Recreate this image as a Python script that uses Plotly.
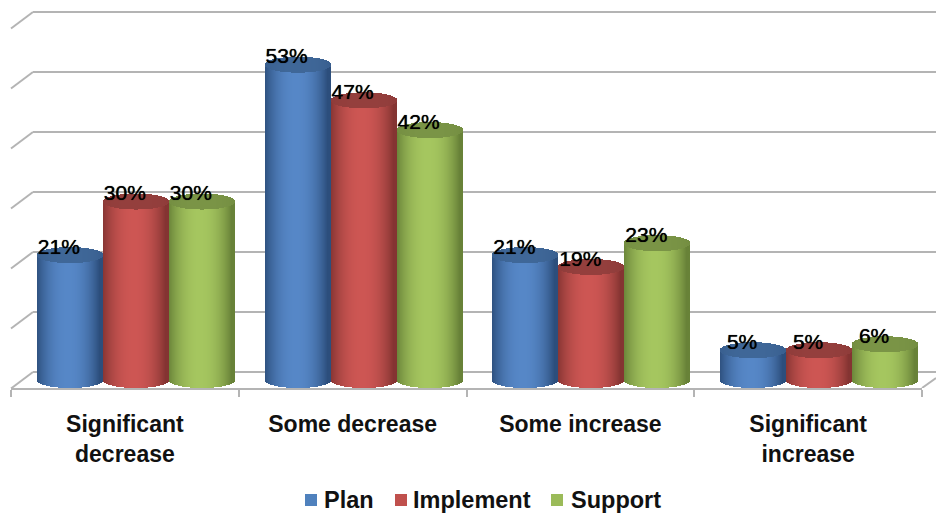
import math
import plotly.graph_objects as go

categories = ["Significant<br>decrease", "Some decrease", "Some increase", "Significant<br>increase"]
series_names = ["Plan", "Implement", "Support"]
plan = [21, 53, 21, 5]
implement = [30, 47, 19, 5]
support = [30, 42, 23, 6]
gridline_values = [0, 10, 20, 30, 40, 50, 60]

centre_colors = [(86, 135, 199), (205, 86, 83), (165, 198, 95)]
edge_colors = [(44, 78, 124), (132, 52, 50), (104, 130, 56)]
cap_colors = [(63, 103, 152), (148, 63, 61), (122, 148, 70)]
legend_colors = ["#4F81BD", "#C0504D", "#9BBB59"]
legend_swatch_px = [305, 395, 551]
legend_text_px = [323, 412, 570]

W, H = 936, 515
L, R, B = 11, 922, 388
BASE_PX, PX_PER_PCT = 380, 5.95
UNIT = (R - L) / 4
CYL_W, DEPTH_X, SEMI = 66, 11, 8
GRID = "#b4b4b4"


def mix(a, b, f):
    return "rgb(%d,%d,%d)" % tuple(round(x + (y - x) * f) for x, y in zip(a, b))


fig = go.Figure()
all_values = [plan, implement, support]
strip = 1 / UNIT
semi_v = SEMI / PX_PER_PCT
offsets = list(range(-CYL_W // 2 + 1, CYL_W // 2, 1))

for s, values in enumerate(all_values):
    xs, base, ht, col, cbase, cht, ccol = [], [], [], [], [], [], []
    for c, v in enumerate(values):
        centre = c + (DEPTH_X + (s - 1) * CYL_W) / UNIT
        for off in offsets:
            t = off / (CYL_W / 2)
            round_ = math.sqrt(max(0.0, 1 - t * t))
            xs.append(centre + off / UNIT)
            base.append(-semi_v * round_)
            ht.append(v + semi_v * round_)
            shade = min(1.0, abs(t + 0.05) ** 2.2 * 1.1)
            col.append(mix(centre_colors[s], edge_colors[s], shade))
            cbase.append(v - semi_v * round_)
            cht.append(2 * semi_v * round_)
            ccol.append(mix(cap_colors[s], edge_colors[s], 0.35 * abs(t) ** 3))
    fig.add_bar(x=xs, y=ht, base=base, width=strip * 1.25, marker=dict(color=col, line_width=0),
                showlegend=False, hoverinfo="skip")
    fig.add_bar(x=xs, y=cht, base=cbase, width=strip * 1.25, marker=dict(color=ccol, line_width=0),
                showlegend=False, hoverinfo="skip")

for s, values in enumerate(all_values):
    fig.add_scatter(
        x=[c + (DEPTH_X + (s - 1) * CYL_W - 11) / UNIT for c in range(len(values))],
        y=[v + 6.5 / PX_PER_PCT for v in values],
        text=[f"{v}%" for v in values], mode="text", textposition="middle center",
        textfont=dict(family="Liberation Sans", size=21, color="#000000", shadow="0 0 0.7px #000000"),
        showlegend=False, hoverinfo="skip", cliponaxis=False)

shapes = []
annotations = []
px_x = lambda p: (p - L) / (R - L)
px_y = lambda p: 1 - p / B
wall_lift = (BASE_PX - 372) / PX_PER_PCT
for g in gridline_values:
    yb = g * 6 / PX_PER_PCT + wall_lift
    shapes.append(dict(type="line", xref="paper", x0=px_x(33), x1=px_x(936), y0=yb, y1=yb,
                       line=dict(color=GRID, width=2), layer="below"))
    shapes.append(dict(type="line", xref="paper", x0=px_x(11), x1=px_x(33), y0=yb - 16.5 / PX_PER_PCT, y1=yb,
                       line=dict(color=GRID, width=2), layer="below"))
shapes.append(dict(type="line", xref="paper", x0=1, x1=px_x(936), y0=(BASE_PX - 388) / PX_PER_PCT,
                   y1=(BASE_PX - 378) / PX_PER_PCT, line=dict(color=GRID, width=2), layer="below"))

for name, color, sx, tx in zip(series_names, legend_colors, legend_swatch_px, legend_text_px):
    shapes.append(dict(type="rect", xref="paper", yref="paper", x0=px_x(sx), x1=px_x(sx + 12),
                       y0=px_y(506), y1=px_y(494), fillcolor=color, line_width=0))
    annotations.append(dict(text=name, xref="paper", yref="paper", x=px_x(tx), y=px_y(500),
                            xanchor="left", yanchor="middle", showarrow=False, borderpad=0,
                            font=dict(size=23.5, family="Liberation Sans", weight="bold", color="#111111")))

fig.update_layout(
    width=W, height=H, margin=dict(l=L, r=W - R, t=0, b=H - B, pad=0),
    paper_bgcolor="white", plot_bgcolor="white", barmode="overlay", bargap=0,
    shapes=shapes, annotations=annotations, showlegend=False,
    font=dict(family="Liberation Sans", color="#000000"),
    xaxis=dict(range=[-0.5, 3.5], tickmode="array", tickvals=[0, 1, 2, 3], ticktext=categories,
               ticks="", showgrid=False, zeroline=False, showline=True, linecolor=GRID, linewidth=2,
               tickfont=dict(size=23, family="Liberation Sans", weight="bold", color="#111111"),
               ticklabelstandoff=14,
               minor=dict(tickmode="linear", tick0=-0.5, dtick=1, ticks="outside", ticklen=7,
                          tickcolor=GRID, tickwidth=2, showgrid=False)),
    yaxis=dict(range=[(BASE_PX - B) / PX_PER_PCT, BASE_PX / PX_PER_PCT], visible=False, fixedrange=True),
)

fig.write_html("out.html", config={"displayModeBar": False},
               post_script="document.body.style.margin='0';document.body.style.overflow='hidden';")
